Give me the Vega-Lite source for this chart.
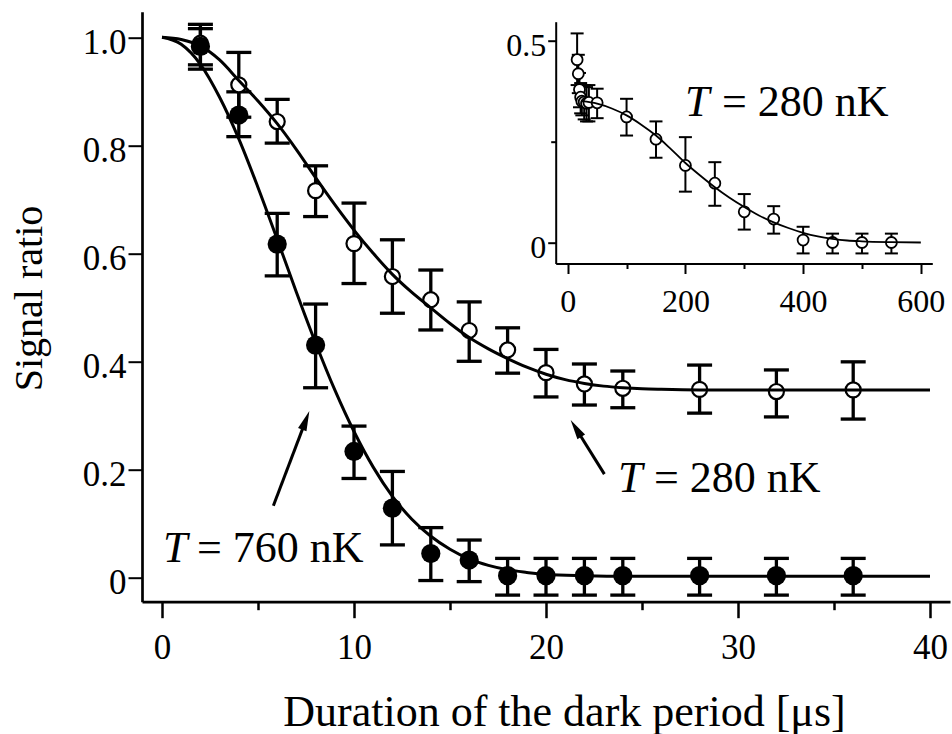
{
  "$schema": "https://vega.github.io/schema/vega-lite/v6.json",
  "width": 808,
  "height": 590,
  "autosize": "none",
  "padding": {"left": 142, "top": 11.7, "right": 2, "bottom": 132.3},
  "background": "white",
  "config": {
    "view": {"stroke": null},
    "font": "Liberation Serif",
    "axis": {"grid": false, "domainColor": "black", "tickColor": "black", "labelColor": "black", "titleColor": "black", "labelFont": "Liberation Serif", "titleFont": "Liberation Serif", "titleFontWeight": "normal", "labelFlush": false, "labelOverlap": false}
  },
  "datasets": {
    "main": [
      {"s": "280", "t": 2, "y": 0.989, "lo": 0.949, "hi": 1.024},
      {"s": "280", "t": 4, "y": 0.912, "lo": 0.852, "hi": 0.972},
      {"s": "280", "t": 6, "y": 0.844, "lo": 0.804, "hi": 0.885},
      {"s": "280", "t": 8, "y": 0.716, "lo": 0.668, "hi": 0.762},
      {"s": "280", "t": 10, "y": 0.618, "lo": 0.544, "hi": 0.693},
      {"s": "280", "t": 12, "y": 0.557, "lo": 0.489, "hi": 0.625},
      {"s": "280", "t": 14, "y": 0.514, "lo": 0.458, "hi": 0.569},
      {"s": "280", "t": 16, "y": 0.457, "lo": 0.4, "hi": 0.51},
      {"s": "280", "t": 18, "y": 0.421, "lo": 0.378, "hi": 0.462},
      {"s": "280", "t": 20, "y": 0.379, "lo": 0.334, "hi": 0.422},
      {"s": "280", "t": 22, "y": 0.358, "lo": 0.319, "hi": 0.395},
      {"s": "280", "t": 24, "y": 0.35, "lo": 0.314, "hi": 0.382},
      {"s": "280", "t": 28, "y": 0.348, "lo": 0.304, "hi": 0.393},
      {"s": "280", "t": 32, "y": 0.344, "lo": 0.297, "hi": 0.384},
      {"s": "280", "t": 36, "y": 0.347, "lo": 0.293, "hi": 0.399},
      {"s": "760", "t": 2, "y": 0.983, "lo": 0.941, "hi": 1.016},
      {"s": "760", "t": 4, "y": 0.856, "lo": 0.816, "hi": 0.899},
      {"s": "760", "t": 6, "y": 0.617, "lo": 0.558, "hi": 0.674},
      {"s": "760", "t": 8, "y": 0.43, "lo": 0.351, "hi": 0.506},
      {"s": "760", "t": 10, "y": 0.233, "lo": 0.183, "hi": 0.28},
      {"s": "760", "t": 12, "y": 0.128, "lo": 0.06, "hi": 0.196},
      {"s": "760", "t": 14, "y": 0.044, "lo": -0.006, "hi": 0.092},
      {"s": "760", "t": 16, "y": 0.032, "lo": -0.008, "hi": 0.069},
      {"s": "760", "t": 18, "y": 0.003, "lo": -0.033, "hi": 0.035},
      {"s": "760", "t": 20, "y": 0.003, "lo": -0.033, "hi": 0.035},
      {"s": "760", "t": 22, "y": 0.003, "lo": -0.033, "hi": 0.035},
      {"s": "760", "t": 24, "y": 0.003, "lo": -0.033, "hi": 0.035},
      {"s": "760", "t": 28, "y": 0.003, "lo": -0.033, "hi": 0.035},
      {"s": "760", "t": 32, "y": 0.003, "lo": -0.033, "hi": 0.035},
      {"s": "760", "t": 36, "y": 0.003, "lo": -0.033, "hi": 0.035}
    ],
    "fit": [
      {"s": "280", "t": 0, "y": 1.0}, {"s": "280", "t": 1, "y": 0.996}, {"s": "280", "t": 2, "y": 0.984},
      {"s": "280", "t": 3, "y": 0.958}, {"s": "280", "t": 4, "y": 0.92}, {"s": "280", "t": 5, "y": 0.882},
      {"s": "280", "t": 6, "y": 0.84}, {"s": "280", "t": 7, "y": 0.792}, {"s": "280", "t": 8, "y": 0.74},
      {"s": "280", "t": 9, "y": 0.69}, {"s": "280", "t": 10, "y": 0.643}, {"s": "280", "t": 11, "y": 0.6},
      {"s": "280", "t": 12, "y": 0.561}, {"s": "280", "t": 13, "y": 0.528}, {"s": "280", "t": 14, "y": 0.499},
      {"s": "280", "t": 15, "y": 0.47}, {"s": "280", "t": 16, "y": 0.444}, {"s": "280", "t": 17, "y": 0.423},
      {"s": "280", "t": 18, "y": 0.405}, {"s": "280", "t": 19, "y": 0.389}, {"s": "280", "t": 20, "y": 0.376},
      {"s": "280", "t": 21, "y": 0.366}, {"s": "280", "t": 22, "y": 0.359}, {"s": "280", "t": 23, "y": 0.354},
      {"s": "280", "t": 24, "y": 0.351}, {"s": "280", "t": 25, "y": 0.349}, {"s": "280", "t": 26, "y": 0.348},
      {"s": "280", "t": 28, "y": 0.347}, {"s": "280", "t": 40, "y": 0.347},
      {"s": "760", "t": 0, "y": 1.0}, {"s": "760", "t": 1, "y": 0.987}, {"s": "760", "t": 2, "y": 0.95},
      {"s": "760", "t": 3, "y": 0.889}, {"s": "760", "t": 4, "y": 0.812}, {"s": "760", "t": 5, "y": 0.722},
      {"s": "760", "t": 6, "y": 0.626}, {"s": "760", "t": 7, "y": 0.528}, {"s": "760", "t": 8, "y": 0.434},
      {"s": "760", "t": 9, "y": 0.347}, {"s": "760", "t": 10, "y": 0.27}, {"s": "760", "t": 11, "y": 0.204},
      {"s": "760", "t": 12, "y": 0.15}, {"s": "760", "t": 13, "y": 0.108}, {"s": "760", "t": 14, "y": 0.076},
      {"s": "760", "t": 15, "y": 0.052}, {"s": "760", "t": 16, "y": 0.034}, {"s": "760", "t": 17, "y": 0.022},
      {"s": "760", "t": 18, "y": 0.014}, {"s": "760", "t": 19, "y": 0.009}, {"s": "760", "t": 20, "y": 0.005},
      {"s": "760", "t": 22, "y": 0.003}, {"s": "760", "t": 24, "y": 0.002}, {"s": "760", "t": 40, "y": 0.002}
    ],
    "arrows": [
      {"a": "760", "x": 5.8, "y": 0.1326, "x2": 7.49, "y2": 0.2906},
      {"a": "280", "x": 23.04, "y": 0.191, "x2": 21.56, "y2": 0.2756}
    ],
    "mlabels": [
      {"tx": 0.05, "ex": 1.82, "ty": 0.0289, "rest": "= 760 nK"},
      {"tx": 23.75, "ex": 25.62, "ty": 0.1585, "rest": "= 280 nK"}
    ],
    "inset": [
      {"t": 16, "y": 0.453, "lo": 0.39, "hi": 0.518},
      {"t": 18, "y": 0.418, "lo": 0.37, "hi": 0.465},
      {"t": 20, "y": 0.379, "lo": 0.335, "hi": 0.42},
      {"t": 22, "y": 0.36, "lo": 0.32, "hi": 0.395},
      {"t": 24, "y": 0.35, "lo": 0.315, "hi": 0.385},
      {"t": 28, "y": 0.348, "lo": 0.305, "hi": 0.39},
      {"t": 32, "y": 0.345, "lo": 0.3, "hi": 0.385},
      {"t": 36, "y": 0.347, "lo": 0.3, "hi": 0.39},
      {"t": 50, "y": 0.346, "lo": 0.308, "hi": 0.381},
      {"t": 100, "y": 0.311, "lo": 0.265, "hi": 0.356},
      {"t": 150, "y": 0.256, "lo": 0.21, "hi": 0.3},
      {"t": 200, "y": 0.191, "lo": 0.126, "hi": 0.261},
      {"t": 250, "y": 0.147, "lo": 0.091, "hi": 0.199},
      {"t": 300, "y": 0.076, "lo": 0.032, "hi": 0.12},
      {"t": 350, "y": 0.058, "lo": 0.022, "hi": 0.09},
      {"t": 400, "y": 0.006, "lo": -0.027, "hi": 0.039},
      {"t": 450, "y": 0.0, "lo": -0.027, "hi": 0.022},
      {"t": 500, "y": 0.0, "lo": -0.027, "hi": 0.022},
      {"t": 550, "y": 0.0, "lo": -0.027, "hi": 0.022}
    ],
    "ifit": [
      {"t": 24, "y": 0.35}, {"t": 50, "y": 0.344}, {"t": 75, "y": 0.332}, {"t": 100, "y": 0.315},
      {"t": 125, "y": 0.292}, {"t": 150, "y": 0.265}, {"t": 175, "y": 0.232}, {"t": 200, "y": 0.197},
      {"t": 225, "y": 0.166}, {"t": 250, "y": 0.137}, {"t": 275, "y": 0.111}, {"t": 300, "y": 0.088},
      {"t": 325, "y": 0.067}, {"t": 350, "y": 0.05}, {"t": 375, "y": 0.036}, {"t": 400, "y": 0.024},
      {"t": 425, "y": 0.015}, {"t": 450, "y": 0.009}, {"t": 475, "y": 0.005}, {"t": 500, "y": 0.003},
      {"t": 550, "y": 0.001}, {"t": 600, "y": 0.0}
    ],
    "ilabels": [
      {"tx": 199.3, "ex": 262.2, "ty": 0.3136, "rest": "= 280 nK"}
    ]
  },
  "layer": [
    {
      "layer": [
        {
          "layer": [
            {
              "data": {"name": "main"},
              "mark": {"type": "rule", "color": "black", "strokeWidth": 3.3},
              "encoding": {
                "x": {"field": "t", "type": "quantitative", "scale": {"domain": [-1.042, 41.042], "nice": false, "zero": false},
                  "axis": {"orient": "bottom", "values": [0, 10, 20, 30, 40], "tickSize": 16, "tickWidth": 2.5, "domainWidth": 2.7, "labelFont": "Liberation Serif", "labelFontSize": 35, "labelBaseline": "alphabetic", "labelPadding": 40.6, "title": "Duration of the dark period [μs]", "titleFont": "Liberation Serif", "titleFontWeight": "normal", "titleFontSize": 44, "titleX": 422, "titleY": 123.3, "titleBaseline": "alphabetic", "titleAlign": "center"}},
                "y": {"field": "lo", "type": "quantitative", "scale": {"domain": [-0.0452, 1.0474], "nice": false, "zero": false},
                  "axis": {"orient": "left", "values": [0, 0.2, 0.4, 0.6, 0.8, 1.0], "labelExpr": "datum.value == 0 ? '0' : format(datum.value, '.1f')", "tickSize": 14, "tickWidth": 2, "domainWidth": 2.7, "labelFont": "Liberation Serif", "labelFontSize": 35, "labelPadding": 2, "labelOffset": 5, "title": "Signal ratio", "titleFont": "Liberation Serif", "titleFontWeight": "normal", "titleFontSize": 40, "titleX": -100.5, "titleY": 286.3, "titleBaseline": "alphabetic", "titleAlign": "center", "titleAngle": 270}},
                "y2": {"field": "hi"}
              }
            },
            {
              "data": {"name": "main"},
              "mark": {"type": "tick", "orient": "horizontal", "color": "black", "size": 25, "thickness": 3.3, "opacity": 1},
              "encoding": {
                "x": {"field": "t", "type": "quantitative"},
                "y": {"field": "lo", "type": "quantitative"}
              }
            },
            {
              "data": {"name": "main"},
              "mark": {"type": "tick", "orient": "horizontal", "color": "black", "size": 25, "thickness": 3.3, "opacity": 1},
              "encoding": {
                "x": {"field": "t", "type": "quantitative"},
                "y": {"field": "hi", "type": "quantitative"}
              }
            },
            {
              "data": {"name": "main"},
              "transform": [{"filter": "datum.s == '280'"}],
              "mark": {"type": "point", "shape": "circle", "filled": true, "fill": "white", "stroke": "black", "strokeWidth": 2.2, "size": 227, "opacity": 1},
              "encoding": {
                "x": {"field": "t", "type": "quantitative"},
                "y": {"field": "y", "type": "quantitative"}
              }
            },
            {
              "data": {"name": "main"},
              "transform": [{"filter": "datum.s == '760'"}],
              "mark": {"type": "point", "shape": "circle", "filled": true, "fill": "black", "strokeWidth": 0, "size": 370, "opacity": 1},
              "encoding": {
                "x": {"field": "t", "type": "quantitative"},
                "y": {"field": "y", "type": "quantitative"}
              }
            },
            {
              "data": {"name": "fit"},
              "mark": {"type": "line", "color": "black", "strokeWidth": 3, "interpolate": "monotone"},
              "encoding": {
                "x": {"field": "t", "type": "quantitative"},
                "y": {"field": "y", "type": "quantitative"},
                "detail": {"field": "s"}
              }
            },
            {
              "data": {"name": "arrows"},
              "mark": {"type": "rule", "color": "black", "strokeWidth": 3},
              "encoding": {
                "x": {"field": "x", "type": "quantitative"},
                "y": {"field": "y", "type": "quantitative"},
                "x2": {"field": "x2"},
                "y2": {"field": "y2"}
              }
            },
            {
              "data": {"name": "arrows"},
              "transform": [{"filter": "datum.a == '760'"}],
              "mark": {"type": "point", "shape": "M0,-1L0.45,1L-0.45,1Z", "angle": 20.8, "size": 400, "filled": true, "fill": "black", "strokeWidth": 0, "opacity": 1},
              "encoding": {
                "x": {"field": "x2", "type": "quantitative"},
                "y": {"field": "y2", "type": "quantitative"}
              }
            },
            {
              "data": {"name": "arrows"},
              "transform": [{"filter": "datum.a == '280'"}],
              "mark": {"type": "point", "shape": "M0,-1L0.45,1L-0.45,1Z", "angle": 328.1, "size": 400, "filled": true, "fill": "black", "strokeWidth": 0, "opacity": 1},
              "encoding": {
                "x": {"field": "x2", "type": "quantitative"},
                "y": {"field": "y2", "type": "quantitative"}
              }
            },
            {
              "data": {"name": "mlabels"},
              "mark": {"type": "text", "text": "T", "font": "Liberation Serif", "fontStyle": "italic", "fontSize": 44, "align": "left", "baseline": "alphabetic", "color": "black"},
              "encoding": {
                "x": {"field": "tx", "type": "quantitative"},
                "y": {"field": "ty", "type": "quantitative"}
              }
            },
            {
              "data": {"name": "mlabels"},
              "mark": {"type": "text", "font": "Liberation Serif", "fontSize": 44, "align": "left", "baseline": "alphabetic", "color": "black"},
              "encoding": {
                "x": {"field": "ex", "type": "quantitative"},
                "y": {"field": "ty", "type": "quantitative"},
                "text": {"field": "rest"}
              }
            }
          ]
        },
        {
          "data": {"name": "main"},
          "mark": {"type": "point", "opacity": 0},
          "encoding": {
            "x": {"field": "t", "type": "quantitative", "scale": {"domain": [-1.042, 41.042], "nice": false, "zero": false},
              "axis": {"orient": "bottom", "values": [5, 15, 25, 35], "labels": false, "domain": false, "tickSize": 8, "tickWidth": 2.5, "title": null}}
          }
        }
      ],
      "resolve": {"axis": {"x": "independent"}}
    },
    {
      "layer": [
        {
          "layer": [
            {
              "data": {"name": "inset"},
              "mark": {"type": "rule", "color": "black", "strokeWidth": 2},
              "encoding": {
                "x": {"field": "t", "type": "quantitative", "scale": {"domain": [-20.4, 619.5], "range": [413.7, 790.3], "nice": false, "zero": false},
                  "axis": {"orient": "bottom", "offset": -338.2, "values": [0, 200, 400, 600], "tickSize": 10, "tickWidth": 2, "domainWidth": 2, "labelFont": "Liberation Serif", "labelFontSize": 32, "labelBaseline": "alphabetic", "labelPadding": 38.2, "title": null}},
                "y": {"field": "lo", "type": "quantitative", "scale": {"domain": [-0.052, 0.547], "range": [251.8, 10], "nice": false, "zero": false},
                  "axis": {"orient": "left", "offset": -413.7, "values": [0, 0.5], "labelExpr": "datum.value == 0 ? '0' : format(datum.value, '.1f')", "tickSize": 8, "tickWidth": 2, "domainWidth": 2, "labelFont": "Liberation Serif", "labelFontSize": 32, "labelPadding": 2, "labelOffset": 5, "title": null}},
                "y2": {"field": "hi"}
              }
            },
            {
              "data": {"name": "inset"},
              "mark": {"type": "tick", "orient": "horizontal", "color": "black", "size": 13, "thickness": 2, "opacity": 1},
              "encoding": {
                "x": {"field": "t", "type": "quantitative"},
                "y": {"field": "lo", "type": "quantitative"}
              }
            },
            {
              "data": {"name": "inset"},
              "mark": {"type": "tick", "orient": "horizontal", "color": "black", "size": 13, "thickness": 2, "opacity": 1},
              "encoding": {
                "x": {"field": "t", "type": "quantitative"},
                "y": {"field": "hi", "type": "quantitative"}
              }
            },
            {
              "data": {"name": "inset"},
              "mark": {"type": "point", "shape": "circle", "filled": true, "fill": "white", "stroke": "black", "strokeWidth": 1.8, "size": 121, "opacity": 1},
              "encoding": {
                "x": {"field": "t", "type": "quantitative"},
                "y": {"field": "y", "type": "quantitative"}
              }
            },
            {
              "data": {"name": "ifit"},
              "mark": {"type": "line", "color": "black", "strokeWidth": 1.8, "interpolate": "monotone"},
              "encoding": {
                "x": {"field": "t", "type": "quantitative"},
                "y": {"field": "y", "type": "quantitative"}
              }
            },
            {
              "data": {"name": "ilabels"},
              "mark": {"type": "text", "text": "T", "font": "Liberation Serif", "fontStyle": "italic", "fontSize": 44, "align": "left", "baseline": "alphabetic", "color": "black"},
              "encoding": {
                "x": {"field": "tx", "type": "quantitative"},
                "y": {"field": "ty", "type": "quantitative"}
              }
            },
            {
              "data": {"name": "ilabels"},
              "mark": {"type": "text", "font": "Liberation Serif", "fontSize": 44, "align": "left", "baseline": "alphabetic", "color": "black"},
              "encoding": {
                "x": {"field": "ex", "type": "quantitative"},
                "y": {"field": "ty", "type": "quantitative"},
                "text": {"field": "rest"}
              }
            }
          ]
        },
        {
          "data": {"name": "inset"},
          "mark": {"type": "point", "opacity": 0},
          "encoding": {
            "x": {"field": "t", "type": "quantitative", "scale": {"domain": [-20.4, 619.5], "range": [413.7, 790.3], "nice": false, "zero": false},
              "axis": {"orient": "bottom", "offset": -338.2, "values": [100, 300, 500], "labels": false, "domain": false, "tickSize": 5, "tickWidth": 2, "title": null}},
            "y": {"field": "y", "type": "quantitative", "scale": {"domain": [-0.052, 0.547], "range": [251.8, 10], "nice": false, "zero": false},
              "axis": {"orient": "left", "offset": -413.7, "values": [0.25], "labels": false, "domain": false, "tickSize": 5, "tickWidth": 2, "title": null}}
          }
        }
      ],
      "resolve": {"axis": {"x": "independent", "y": "independent"}}
    }
  ],
  "resolve": {"scale": {"x": "independent", "y": "independent"}}
}
